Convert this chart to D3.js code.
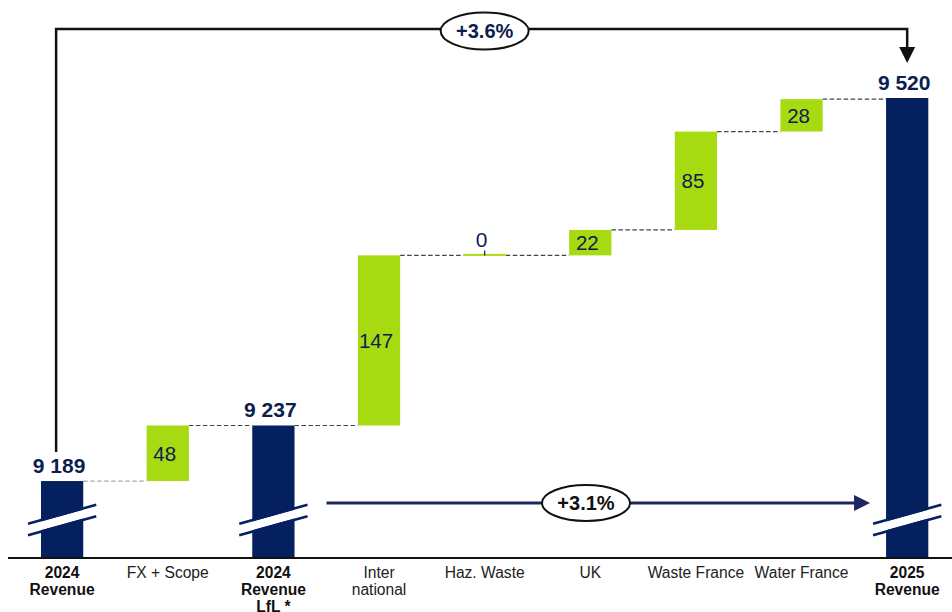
<!DOCTYPE html>
<html>
<head>
<meta charset="utf-8">
<script src="https://cdn.jsdelivr.net/npm/d3@7"></script>
<style>
  html, body { margin: 0; padding: 0; background: #fff; }
  svg { display: block; font-family: Arial, "Liberation Sans", sans-serif; }
</style>
</head>
<body>
<svg id="chart" width="952" height="612"></svg>
<script>
// ---- data ----
const categories = ["2024 Revenue", "FX + Scope", "2024 Revenue LfL *", "International", "Haz. Waste", "UK", "Waste France", "Water France", "2025 Revenue"];
const categoryLines = [["2024", "Revenue"], ["FX + Scope"], ["2024", "Revenue", "LfL *"], ["Inter", "national"], ["Haz. Waste"], ["UK"], ["Waste France"], ["Water France"], ["2025", "Revenue"]];
const values = [9189, 48, 9237, 147, 0, 22, 85, 28, 9520];
const kinds = ["total", "delta", "total", "delta", "delta", "delta", "delta", "delta", "total"];
const growthLabels = ["+3.6%", "+3.1%"];

// ---- styles ----
const NAVY = "#04205e";
const GREEN = "#a8da12";
const LABEL = "#0d1d50";
const W = 952, H = 612;
const baseY = 558;

const svg = d3.select("#chart");

const x = d3.scaleBand().domain(categories).range([9.3, 960]).paddingInner(0.6).paddingOuter(0.3);
const y = d3.scaleLinear().domain([9122.5, 9520]).range([baseY, 98]);
const base = y.domain()[0];

const fmt = d3.formatLocale({decimal: ".", thousands: " ", grouping: [3], currency: ["", ""]}).format(",d");

// waterfall rows
let run = 0;
const rows = categories.map((c, i) => {
  if (kinds[i] === "total") { run = values[i]; return {c, i, kind: "total", start: base, end: values[i], v: values[i]}; }
  const s = run; run += values[i];
  return {c, i, kind: "delta", start: s, end: run, v: values[i]};
});

// connectors
svg.append("g").selectAll("line").data(rows.slice(0, -1)).join("line")
  .attr("x1", d => x(d.c) + x.bandwidth())
  .attr("x2", d => x(categories[d.i + 1]))
  .attr("y1", d => y(d.end)).attr("y2", d => y(d.end))
  .attr("stroke", d => d.i === 0 ? "#aaa" : "#444")
  .attr("stroke-width", 1.2)
  .attr("stroke-dasharray", "4.5,2.5");

// bars
svg.append("g").selectAll("rect").data(rows).join("rect")
  .attr("x", d => x(d.c))
  .attr("width", x.bandwidth())
  .attr("y", d => d.v === 0 ? y(d.end) - 1.5 : y(Math.max(d.start, d.end)))
  .attr("height", d => d.v === 0 ? 2 : Math.abs(y(d.start) - y(d.end)))
  .attr("fill", d => d.kind === "total" ? NAVY : GREEN);

// break marks on totals
const brk = svg.append("g");
rows.filter(d => d.kind === "total").forEach(d => {
  const x0 = x(d.c) - 13, x1 = x(d.c) + x.bandwidth() + 13;
  const cy = 520, slope = 19, gap = 11.5;
  const yl = cy + slope / 2, yr = cy - slope / 2;
  const k = -slope / (x1 - x0);
  const bx0 = x(d.c) - 1, bx1 = x(d.c) + x.bandwidth() + 1;
  const yAt = xx => yl + (xx - x0) * k;
  brk.append("polygon")
    .attr("points", [
      [bx0, yAt(bx0) - gap / 2 + 1.3], [bx1, yAt(bx1) - gap / 2 + 1.3],
      [bx1, yAt(bx1) + gap / 2 - 1.3], [bx0, yAt(bx0) + gap / 2 - 1.3]
    ].map(p => p.join(",")).join(" "))
    .attr("fill", "#fff");
  [-gap / 2, gap / 2].forEach(o => {
    brk.append("line")
      .attr("x1", x0).attr("y1", yl + o).attr("x2", x1).attr("y2", yr + o)
      .attr("stroke", NAVY).attr("stroke-width", 2.5);
  });
});

// axis line
svg.append("line").attr("x1", 8).attr("x2", W).attr("y1", baseY).attr("y2", baseY)
  .attr("stroke", "#111").attr("stroke-width", 2);

// value labels
const lab = svg.append("g");
rows.forEach(d => {
  const cx = x(d.c) + x.bandwidth() / 2 - 3;
  if (d.kind === "total") {
    lab.append("text").attr("x", cx).attr("y", y(d.end) - 8)
      .attr("text-anchor", "middle").attr("font-size", 21).attr("font-weight", "bold")
      .attr("fill", LABEL).text(fmt(d.v));
  } else if (d.v === 0) {
    lab.append("line").attr("x1", cx + 3).attr("x2", cx + 3).attr("y1", y(d.end) - 5).attr("y2", y(d.end))
      .attr("stroke", LABEL).attr("stroke-width", 1.2);
    lab.append("text").attr("x", cx).attr("y", y(d.end) - 8)
      .attr("text-anchor", "middle").attr("font-size", 21)
      .attr("fill", LABEL).text(fmt(d.v));
  } else {
    lab.append("text").attr("x", cx).attr("y", (y(d.start) + y(d.end)) / 2)
      .attr("dy", "0.36em")
      .attr("text-anchor", "middle").attr("font-size", 20.5)
      .attr("fill", LABEL).text(fmt(d.v));
  }
});

// category labels
const cat = svg.append("g");
rows.forEach(d => {
  const cx = x(d.c) + x.bandwidth() / 2;
  const t = cat.append("text").attr("text-anchor", "middle").attr("font-size", 15.6)
    .attr("font-weight", d.kind === "total" ? "bold" : "normal")
    .attr("fill", d.kind === "total" ? "#111" : "#222");
  categoryLines[d.i].forEach((ln, k) => {
    t.append("tspan").attr("x", cx).attr("y", 578 + k * 16.8).text(ln);
  });
});

// +3.6% overall arrow
const first = rows[0], last = rows[rows.length - 1];
const lx = x(first.c) + x.bandwidth() / 2 - 6;
const rx = x(last.c) + x.bandwidth() / 2;
const topY = 29;
svg.append("path")
  .attr("d", `M${lx},${y(first.end) - 29}V${topY}H${rx}V${y(last.end) - 50}`)
  .attr("fill", "none").attr("stroke", "#111").attr("stroke-width", 2.5);
svg.append("path")
  .attr("d", `M${rx - 8},${y(last.end) - 51}L${rx + 8},${y(last.end) - 51}L${rx},${y(last.end) - 35}Z`)
  .attr("fill", "#111");
const e1x = (lx + rx) / 2 + 3;
svg.append("ellipse").attr("cx", e1x).attr("cy", topY + 2).attr("rx", 44).attr("ry", 18.5)
  .attr("fill", "#fff").attr("stroke", "#111").attr("stroke-width", 2);
svg.append("text").attr("x", e1x).attr("y", topY + 2).attr("dy", "0.36em")
  .attr("text-anchor", "middle").attr("font-size", 20).attr("font-weight", "bold")
  .attr("fill", LABEL).text(growthLabels[0]);

// +3.1% LfL arrow
const lfl = rows[2];
const ay = 503;
const ax0 = x(lfl.c) + x.bandwidth() + 32;
const ax1 = x(last.c) - 16;
svg.append("line").attr("x1", ax0).attr("x2", ax1 - 14).attr("y1", ay).attr("y2", ay)
  .attr("stroke", "#1c2660").attr("stroke-width", 3);
svg.append("path")
  .attr("d", `M${ax1 - 16},${ay - 8}L${ax1},${ay}L${ax1 - 16},${ay + 8}Z`)
  .attr("fill", "#1c2660");
const e2x = 586;
svg.append("ellipse").attr("cx", e2x).attr("cy", ay).attr("rx", 44).attr("ry", 18)
  .attr("fill", "#fff").attr("stroke", "#111").attr("stroke-width", 2);
svg.append("text").attr("x", e2x).attr("y", ay).attr("dy", "0.36em")
  .attr("text-anchor", "middle").attr("font-size", 20).attr("font-weight", "bold")
  .attr("fill", "#111").text(growthLabels[1]);
</script>
</body>
</html>
